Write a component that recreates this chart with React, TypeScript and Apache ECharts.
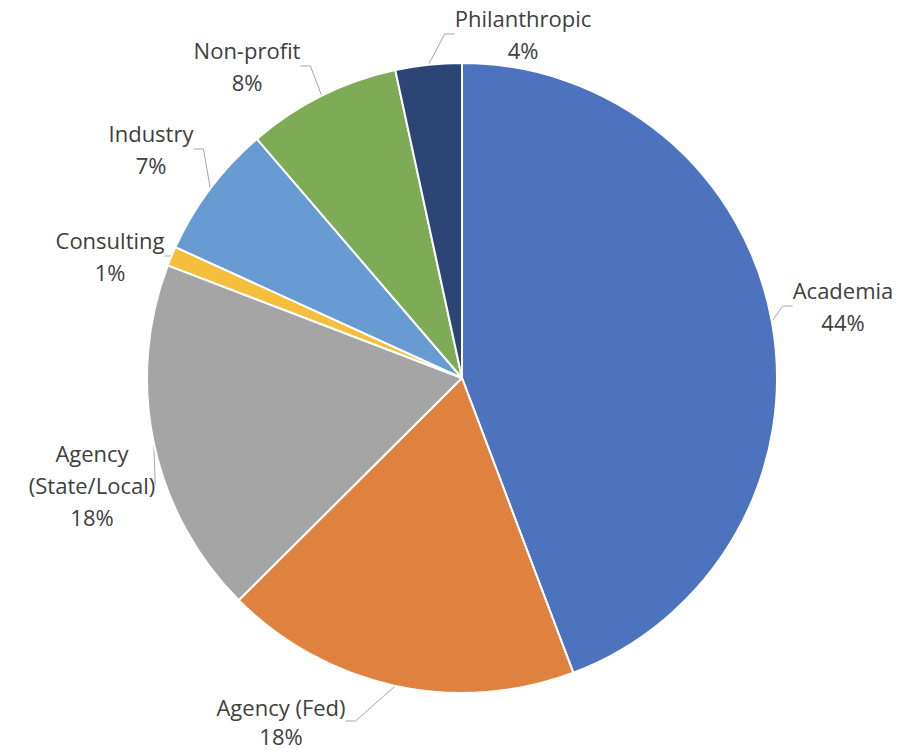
import React, { useEffect, useRef } from "react";
import * as echarts from "echarts";

const categories = [
  "Academia",
  "Agency (Fed)",
  "Agency\n(State/Local)",
  "Consulting",
  "Industry",
  "Non-profit",
  "Philanthropic",
];
const values = [44.3, 18.3, 18.3, 1.0, 6.9, 7.9, 3.4];
const colors = ["#4E73BE", "#E0823F", "#A5A5A5", "#F5BE3D", "#689BD2", "#7EAB55", "#2B4575"];
// label anchor (center) positions and line heights, styling only
const labelPos: [number, number][] = [
  [843, 306],
  [281, 721],
  [92, 485],
  [110, 256],
  [151, 149],
  [247, 66],
  [523, 34],
];
const labelLineHeights = [32, 29, 32, 32, 32, 32, 32];

export default function App() {
  const ref = useRef<HTMLDivElement>(null);
  useEffect(() => {
    if (!ref.current) return;
    const chart = echarts.init(ref.current, undefined, { renderer: "svg" });
    chart.setOption({
      animation: false,
      backgroundColor: "#ffffff",
      series: [
        {
          type: "pie",
          center: [462, 378],
          radius: [0, 315],
          startAngle: 90,
          clockwise: true,
          percentPrecision: 0,
          avoidLabelOverlap: false,
          itemStyle: { borderColor: "#ffffff", borderWidth: 2 },
          label: {
            show: true,
            position: "outside",
            formatter: "{b}\n{d}%",
            fontFamily: "Open Sans, Noto Sans, sans-serif",
            fontSize: 22,
            lineHeight: 32,
            color: "#404040",
            align: "center",
          },
          labelLine: {
            show: true,
            length: 10,
            length2: 10,
            lineStyle: { color: "#A6A6A6", width: 1 },
          },
          labelLayout: (params: any) => {
            const p = labelPos[params.dataIndex];
            return { x: p[0], y: p[1], align: "center", verticalAlign: "middle" };
          },
          data: categories.map((c, i) => ({
            name: c,
            value: values[i],
            itemStyle: { color: colors[i] },
            label: { lineHeight: labelLineHeights[i] },
          })),
        },
      ],
    });
    return () => chart.dispose();
  }, []);
  return (
    <div
      ref={ref}
      style={{ position: "fixed", left: 0, top: 0, width: 912, height: 754 }}
    />
  );
}
